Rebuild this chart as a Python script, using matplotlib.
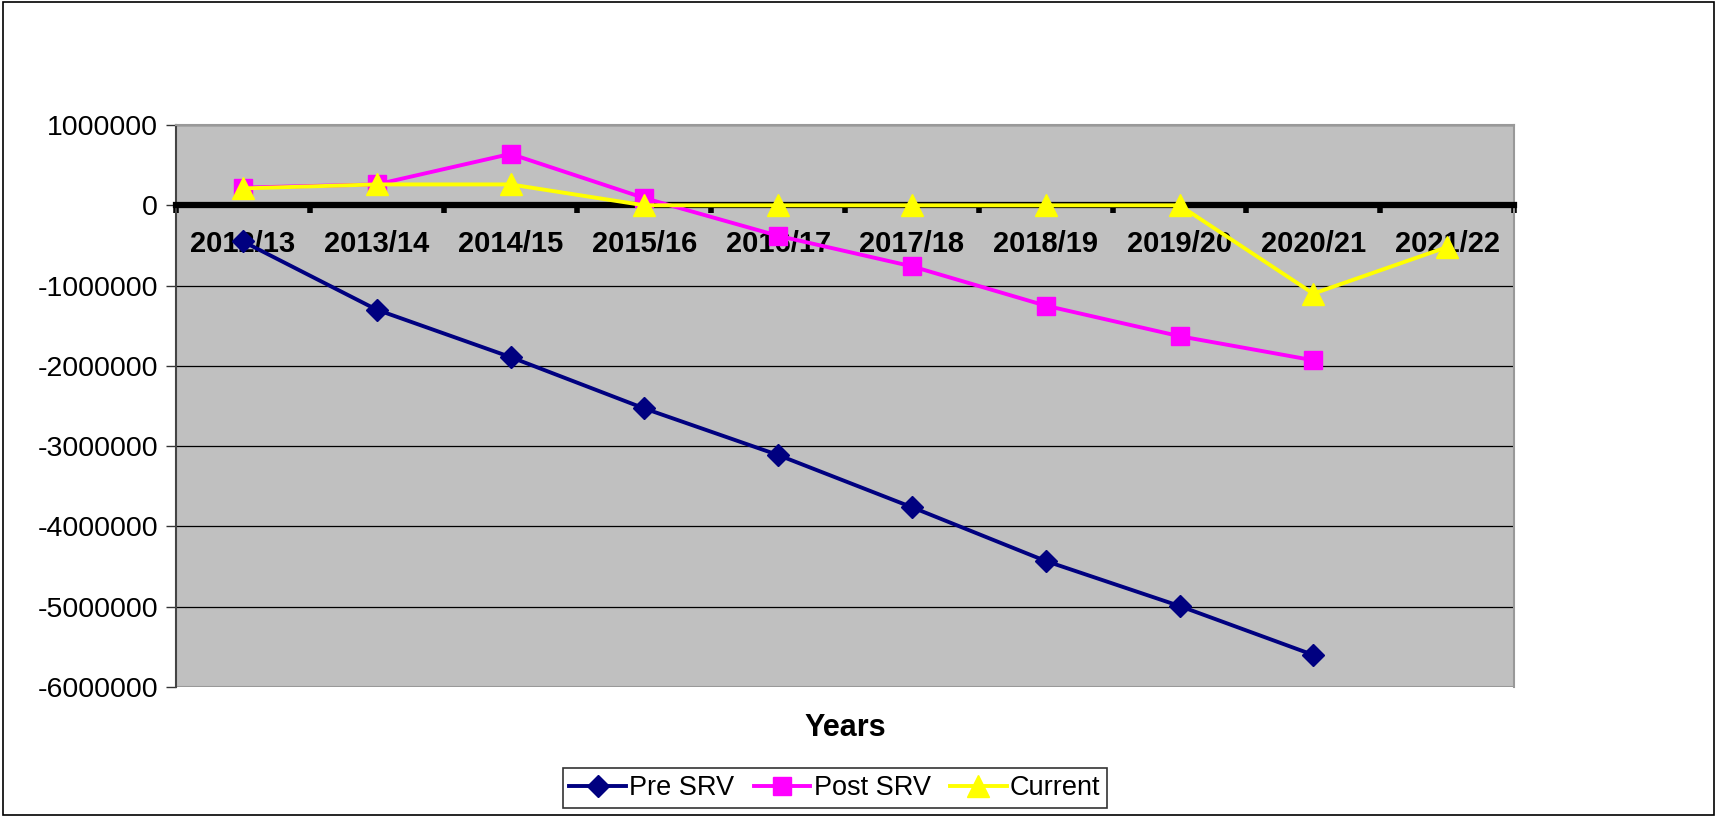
import numpy as np
import matplotlib.pyplot as plt
from matplotlib.patches import Rectangle

plt.rcParams['font.family'] = ['Liberation Sans', 'DejaVu Sans']

years = ['2012/13', '2013/14', '2014/15', '2015/16', '2016/17',
         '2017/18', '2018/19', '2019/20', '2020/21', '2021/22']
pre_srv = [-450000, -1300000, -1890000, -2530000, -3110000,
           -3760000, -4430000, -4990000, -5600000, np.nan]
post_srv = [220000, 260000, 640000, 90000, -380000,
            -760000, -1250000, -1630000, -1930000, np.nan]
current = [210000, 260000, 260000, 0, 0,
           0, 0, 0, -1100000, -520000]

fig = plt.figure(figsize=(17.17, 8.17), dpi=100)
fig.patches.append(Rectangle((0.002, 0.002), 0.996, 0.996, transform=fig.transFigure,
                             fill=False, edgecolor='black', linewidth=1.2))
ax = fig.add_axes([0.1025, 0.159, 0.7793, 0.688])
ax.set_facecolor('#C0C0C0')

x = np.arange(len(years))
ax.plot(x, pre_srv, color='#000080', lw=2.8, marker='D', ms=11, label='Pre SRV', zorder=3)
ax.plot(x, post_srv, color='#FF00FF', lw=2.8, marker='s', ms=13, label='Post SRV', zorder=4)
ax.plot(x, current, color='#FFFF00', lw=2.8, marker='^', ms=16, label='Current', zorder=5)

ax.set_xlim(-0.5, len(years) - 0.5)
ax.set_ylim(-6000000, 1000000)
ax.set_yticks(np.arange(-6000000, 1000001, 1000000))
ax.set_yticklabels([str(v) for v in range(-6000000, 1000001, 1000000)], fontsize=20.5)
ax.yaxis.grid(True, color='black', lw=0.9)
ax.set_axisbelow(True)
ax.tick_params(axis='y', direction='out', length=7, width=1, color='#333333', pad=6)

# zero axis line with category tick marks
ax.spines['bottom'].set_position(('data', 0))
ax.spines['bottom'].set_linewidth(4.5)
ax.spines['bottom'].set_zorder(2.5)
ax.set_xticks(np.arange(-0.5, len(years)), minor=False)
ax.set_xticklabels([])
ax.set_xticks(x, minor=True)
ax.set_xticklabels(years, minor=True, fontsize=21, fontweight='bold')
ax.tick_params(axis='x', which='major', direction='out', length=6, width=4, color='black')
ax.tick_params(axis='x', which='minor', length=0, pad=18)
for s in ['top', 'right']:
    ax.spines[s].set_color('#999999')
    ax.spines[s].set_linewidth(1.5)
ax.spines['left'].set_color('#444444')
ax.spines['left'].set_linewidth(1.5)
ax.axhline(-6000000, color='#999999', lw=1.5)

fig.text(0.4925, 0.109, 'Years', ha='center', va='center', fontsize=22, fontweight='bold')

leg = fig.legend(loc='center', bbox_to_anchor=(0.4862, 0.0355), ncol=3, fontsize=19.5,
                 frameon=True, fancybox=False, edgecolor='black', handlelength=2.1,
                 handletextpad=0.12, columnspacing=0.7, borderpad=0.25, borderaxespad=0.2)
leg.get_frame().set_linewidth(1.2)

fig.savefig('out.png', dpi=100)
